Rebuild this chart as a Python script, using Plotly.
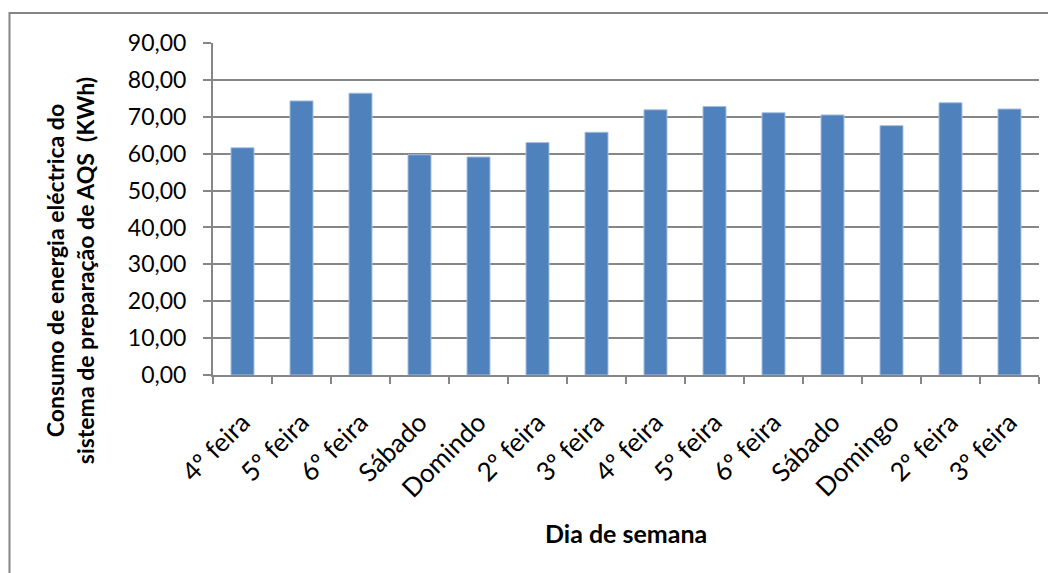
import plotly.graph_objects as go

dias = ["4º feira", "5º feira", "6º feira", "Sábado", "Domindo", "2º feira", "3º feira",
        "4º feira", "5º feira", "6º feira", "Sábado", "Domingo", "2º feira", "3º feira"]
consumo = [61.6, 74.3, 76.4, 59.7, 59.1, 63.0, 65.8,
           71.9, 72.8, 71.1, 70.5, 67.6, 73.8, 72.1]
y_ticks = [0, 10, 20, 30, 40, 50, 60, 70, 80, 90]

GRAY = "#868686"

fig = go.Figure(go.Bar(
    x=list(range(len(dias))),
    y=consumo,
    marker=dict(color="#4F81BD", line=dict(color="#A7BFDE", width=1)),
    hovertemplate="%{text}: %{y:.2f}<extra></extra>",
    text=dias,
    textposition="none",
))

# the page body has an 8px margin, so the figure is drawn 8px smaller
fig.update_layout(
    width=1048,
    height=565,
    plot_bgcolor="white",
    paper_bgcolor="white",
    font=dict(family="Lato, sans-serif", size=23, color="#000000"),
    separators=", ",
    bargap=0.61,
    showlegend=False,
    margin=dict(l=205, r=17, t=35, b=198),
    annotations=[
        dict(
            text="<b>Consumo de energia eléctrica do<br>sistema de preparação de AQS  (KWh)</b>",
            xref="paper", yref="paper",
            x=-0.173, y=0.313,
            xanchor="center", yanchor="middle",
            textangle=-90, showarrow=False,
            font=dict(size=23),
        ),
        dict(
            text="<b>Dia de semana</b>",
            xref="paper", yref="paper",
            x=0.5, y=-0.476,
            xanchor="center", yanchor="middle",
            showarrow=False,
            font=dict(size=25),
        ),
    ],
    shapes=[
        dict(
            type="rect", xref="paper", yref="paper",
            x0=-0.2464, x1=1.05, y0=-0.7, y1=1.09,
            line=dict(color=GRAY, width=2),
        )
    ],
)

fig.update_xaxes(
    range=[-0.5, len(dias) - 0.5],
    tickmode="array",
    tickvals=list(range(len(dias))),
    ticktext=dias,
    tickangle=-45,
    tickfont=dict(size=26),
    ticks="",
    ticklabelstandoff=20,
    showline=True, linecolor=GRAY, linewidth=2,
    showgrid=False, zeroline=False,
    minor=dict(ticks="outside", tick0=-0.5, dtick=1, ticklen=7, tickcolor=GRAY, tickwidth=2,
               showgrid=False),
)

fig.update_yaxes(
    range=[0, 90],
    tickmode="array",
    tickvals=y_ticks,
    tickformat=".2f",
    ticks="outside", ticklen=8, tickcolor=GRAY, tickwidth=2,
    ticklabelstandoff=12,
    showline=True, linecolor=GRAY, linewidth=2,
    showgrid=True, gridcolor=GRAY, gridwidth=2,
    zeroline=False,
)

fig.write_html("out.html")
